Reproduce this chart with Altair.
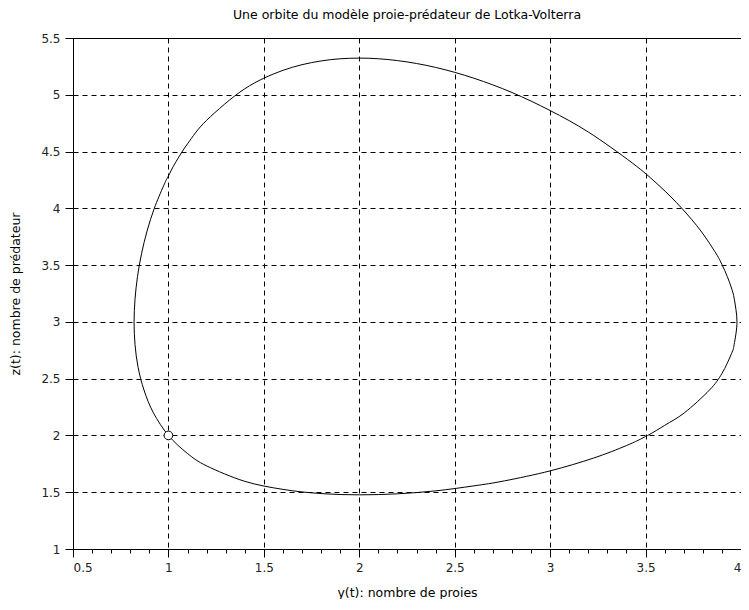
import altair as alt
import pandas as pd

# Orbit points: prey y(t) (x axis) and predator z(t) (y axis)
prey = [1.0, 1.1, 1.2, 1.4, 1.6, 1.8, 2.0, 2.2, 2.4, 2.6,
        2.761, 3.0, 3.226, 3.4, 3.511, 3.6, 3.704, 3.835, 3.9, 3.95,
        3.964, 3.979, 3.965, 3.95, 3.928, 3.9, 3.87, 3.79, 3.69, 3.571,
        3.43, 3.2, 3.0, 2.8, 2.6, 2.4, 2.2, 2.0, 1.8, 1.6,
        1.4, 1.2, 1.1, 1.036, 1.0, 0.975, 0.926, 0.888, 0.859, 0.838,
        0.825, 0.820, 0.825, 0.841, 0.872, 0.921]
pred = [2.0, 1.841, 1.732, 1.596, 1.525, 1.488, 1.477, 1.486, 1.512, 1.556,
        1.6, 1.688, 1.8, 1.911, 2.0, 2.089, 2.2, 2.4, 2.545, 2.72,
        2.8, 3.0, 3.2, 3.2985, 3.4, 3.506, 3.6, 3.8, 4.0, 4.2,
        4.4, 4.672, 4.861, 5.02, 5.146, 5.241, 5.301, 5.323, 5.298, 5.215,
        5.053, 4.775, 4.568, 4.4, 4.285, 4.2, 4.0, 3.8, 3.6, 3.4,
        3.2, 3.0, 2.8, 2.6, 2.4, 2.2]

start_y = [1.0]
start_z = [2.0]

x_ticks = [0.5, 1, 1.5, 2, 2.5, 3, 3.5, 4]
y_ticks = [1, 1.5, 2, 2.5, 3, 3.5, 4, 4.5, 5, 5.5]
x_minor = [round(0.5 + 0.1 * i, 1) for i in range(36)]

df = pd.DataFrame({"i": list(range(len(prey))), "y": prey, "z": pred})
df_pt = pd.DataFrame({"y": start_y, "z": start_z})
df_minor = pd.DataFrame({"v": x_minor})

FONT = "DejaVu Sans"
xscale = alt.Scale(domain=[0.5, 4], nice=False, zero=False)
yscale = alt.Scale(domain=[1, 5.5], nice=False, zero=False)

xaxis = alt.Axis(values=x_ticks, format="~g", grid=True, gridDash=[5, 4],
                 gridColor="black", gridOpacity=1, gridWidth=1,
                 tickSize=8, tickColor="black", domainColor="black",
                 labelFontSize=12, labelPadding=5, labelColor="#222222",
                 titleFontSize=12.5, titleFontWeight="normal", titlePadding=13,
                 titleColor="black", labelFont=FONT, titleFont=FONT,
                 orient="bottom")
yaxis = alt.Axis(values=y_ticks, format="~g", grid=True, gridDash=[5, 4],
                 gridColor="black", gridOpacity=1, gridWidth=1,
                 tickSize=8, tickColor="black", domainColor="black",
                 labelFontSize=12, labelPadding=5, labelColor="#222222",
                 titleFontSize=12.5, titleFontWeight="normal", titlePadding=18,
                 titleColor="black", labelFont=FONT, titleFont=FONT)

curve = alt.Chart(df).mark_line(
    interpolate="cardinal-closed", color="black", strokeWidth=1
).encode(
    x=alt.X("y:Q", scale=xscale, axis=xaxis, title="y(t): nombre de proies"),
    y=alt.Y("z:Q", scale=yscale, axis=yaxis, title="z(t): nombre de prédateur"),
    order="i:Q",
)

point = alt.Chart(df_pt).mark_point(
    shape="circle", filled=True, fill="white", stroke="black",
    strokeWidth=1, size=75, opacity=1
).encode(
    x=alt.X("y:Q", scale=xscale, axis=None),
    y=alt.Y("z:Q", scale=yscale),
)

minor = alt.Chart(df_minor).mark_point(opacity=0).encode(
    x=alt.X("v:Q", scale=xscale,
            axis=alt.Axis(values=x_minor, labels=False, tickSize=4,
                          tickColor="black", domain=False, grid=False,
                          orient="bottom", title=None)),
)

chart = alt.layer(curve, minor, point).resolve_axis(x="independent").properties(
    width=668, height=511,
    autosize=alt.AutoSizeParams(type="none"),
    padding={"left": 65, "top": 30, "right": 0, "bottom": 50},
    title=alt.TitleParams(
        "Une orbite du modèle proie-prédateur de Lotka-Volterra",
        fontSize=12.5, fontWeight="normal", font=FONT, color="black",
        anchor="middle", offset=11,
    ),
).configure_view(stroke="black", strokeWidth=1)

chart.save("out.html", embed_options={"renderer": "svg", "actions": False})
